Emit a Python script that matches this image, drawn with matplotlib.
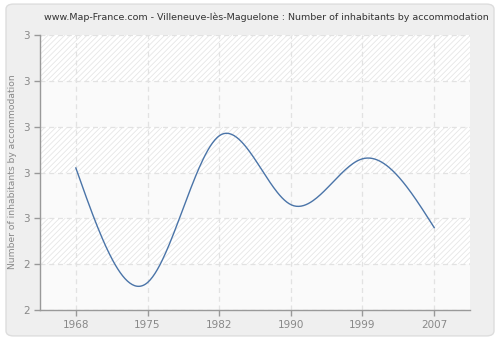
import numpy as np
import matplotlib
matplotlib.use("Agg")
import matplotlib.pyplot as plt
from matplotlib.patches import FancyBboxPatch

# ==============================
# Data
# ==============================
years = ['1968', '1975', '1982', '1990', '1999', '2007']
inhabitants = [2.72, 2.22, 2.86, 2.56, 2.76, 2.46]

y_ticks = [2.1, 2.3, 2.5, 2.7, 2.9, 3.1, 3.3]
y_tick_labels = ['2', '2', '3', '3', '3', '3', '3']

title = "www.Map-France.com - Villeneuve-lès-Maguelone : Number of inhabitants by accommodation"
ylabel = "Number of inhabitants by accommodation"


# ==============================
# Smooth curve (natural cubic spline)
# ==============================
def natural_spline(x, y, n=300):
    x = np.asarray(x, dtype=float)
    y = np.asarray(y, dtype=float)
    k = len(x)
    h = np.diff(x)
    A = np.zeros((k, k))
    b = np.zeros(k)
    A[0, 0] = 1
    A[-1, -1] = 1
    for i in range(1, k - 1):
        A[i, i - 1] = h[i - 1]
        A[i, i] = 2 * (h[i - 1] + h[i])
        A[i, i + 1] = h[i]
        b[i] = 6 * ((y[i + 1] - y[i]) / h[i] - (y[i] - y[i - 1]) / h[i - 1])
    m = np.linalg.solve(A, b)
    xs = np.linspace(x[0], x[-1], n)
    ys = np.zeros_like(xs)
    for j, xv in enumerate(xs):
        i = min(np.searchsorted(x, xv, side='right') - 1, k - 2)
        t1 = x[i + 1] - xv
        t0 = xv - x[i]
        ys[j] = (m[i] * t1 ** 3 / (6 * h[i]) + m[i + 1] * t0 ** 3 / (6 * h[i])
                 + (y[i] / h[i] - m[i] * h[i] / 6) * t1
                 + (y[i + 1] / h[i] - m[i + 1] * h[i] / 6) * t0)
    return xs, ys


x_pos = np.arange(len(years))
xs, ys = natural_spline(x_pos, inhabitants)

# ==============================
# Figure
# ==============================
plt.rcParams['hatch.linewidth'] = 0.6

fig = plt.figure(figsize=(5, 3.4), dpi=100, facecolor='white')
bg = FancyBboxPatch((0.012, 0.012), 0.976, 0.976,
                    boxstyle="round,pad=0,rounding_size=0.015",
                    transform=fig.transFigure, facecolor='#efefef',
                    edgecolor='#dddddd', linewidth=1, zorder=-5)
fig.patches.append(bg)

ax = fig.add_axes([0.08, 0.088, 0.86, 0.809])
ax.set_facecolor('#fafafa')

# alternating hatched bands, top band hatched
n_bands = len(y_ticks) - 1
for i in range(n_bands):
    if (n_bands - 1 - i) % 2 == 0:
        ax.axhspan(y_ticks[i], y_ticks[i + 1],
                   facecolor='#ffffff', edgecolor='#e6e6e6', hatch='//////',
                   linewidth=0, zorder=0)

ax.plot(xs, ys, color='#4a74a8', linewidth=1.0, zorder=3)

ax.set_xlim(-0.5, len(years) - 0.5)
ax.set_ylim(y_ticks[0], y_ticks[-1])
ax.set_xticks(x_pos)
ax.set_xticklabels(years)
ax.set_yticks(y_ticks)
ax.set_yticklabels(y_tick_labels)

ax.grid(True, color='#e2e2e2', linestyle=(0, (4, 3)), linewidth=0.9, zorder=1)
ax.set_axisbelow(True)

for side in ['top', 'right']:
    ax.spines[side].set_visible(False)
for side in ['left', 'bottom']:
    ax.spines[side].set_color('#999999')
    ax.spines[side].set_linewidth(1)

ax.tick_params(axis='both', colors='#999999', labelcolor='#888888',
               labelsize=7.5, length=4, width=1)

fig.text(0.532, 0.95, title, ha='center', va='center', fontsize=6.8, color='#333333')
fig.text(0.026, 0.495, ylabel, ha='center', va='center', rotation=90,
         fontsize=6.6, color='#888888')

fig.savefig('out.png', dpi=100, facecolor=fig.get_facecolor())
